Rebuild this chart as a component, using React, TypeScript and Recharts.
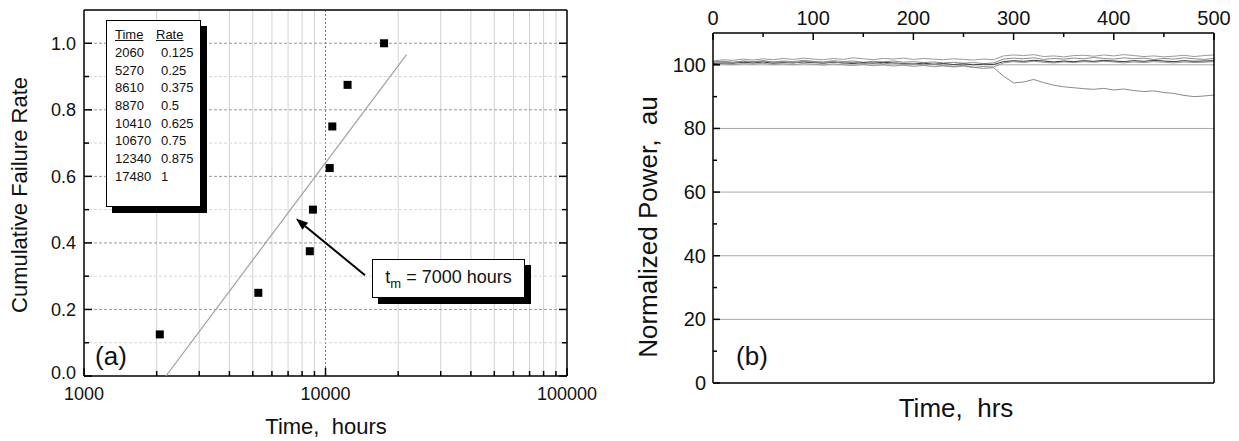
import React from "react";
import {
  ComposedChart,
  LineChart,
  Line,
  Scatter,
  XAxis,
  YAxis,
  ReferenceLine,
} from "recharts";

const FONT = "'Liberation Sans', Arial, Helvetica, sans-serif";

// ---- panel (a) data ----
const failTime = [2060, 5270, 8610, 8870, 10410, 10670, 12340, 17480];
const failRate = [0.125, 0.25, 0.375, 0.5, 0.625, 0.75, 0.875, 1];
const rateLabels = ["0.125", "0.25", "0.375", "0.5", "0.625", "0.75", "0.875", "1"];
const fitTime = [2185, 21650];
const fitRate = [0, 0.966];
const arrowTime = [14575, 7546];
const arrowRate = [0.303, 0.473];

const logTicks = [
  1000, 2000, 3000, 4000, 5000, 6000, 7000, 8000, 9000,
  10000, 20000, 30000, 40000, 50000, 60000, 70000, 80000, 90000, 100000,
];
const logLabels = [1000, 10000, 100000];
const minorLog = [
  2000, 3000, 4000, 5000, 6000, 7000, 8000, 9000,
  20000, 30000, 40000, 50000, 60000, 70000, 80000, 90000,
];
const rateTicks = [0, 0.1, 0.2, 0.3, 0.4, 0.5, 0.6, 0.7, 0.8, 0.9, 1.0];
const rateGridMajor = [0.2, 0.4, 0.6, 0.8, 1.0];
const rateGridMinor = [0.1, 0.3, 0.5, 0.7, 0.9];

// ---- panel (b) data ----
const hrs = [
  0, 10, 20, 30, 40, 50, 60, 70, 80, 90,
  100, 110, 120, 130, 140, 150, 160, 170, 180, 190,
  200, 210, 220, 230, 240, 250, 260, 270, 280, 290,
  300, 310, 320, 330, 340, 350, 360, 370, 380, 390,
  400, 410, 420, 430, 440, 450, 460, 470, 480, 490, 500,
];
const powA = [
  100.8, 101.0, 100.7, 101.1, 100.9, 101.2, 100.8, 101.0, 100.6, 101.1,
  100.9, 100.7, 101.0, 100.5, 100.8, 100.4, 100.7, 100.3, 100.6, 100.2,
  100.4, 99.9, 100.2, 99.7, 99.5, 99.8, 99.2, 98.9, 99.1, 96.4,
  94.3, 94.6, 95.4, 94.4, 93.6, 93.1, 92.8, 92.5, 92.3, 92.6,
  92.1, 92.4, 91.9, 91.6, 91.8, 91.3, 91.0, 90.4, 90.0, 90.2, 90.5,
];
const powB = [
  101.2, 101.6, 101.4, 101.8, 101.5, 101.9, 101.6, 102.0, 101.7, 102.1,
  101.8, 101.6, 102.0, 101.7, 102.2, 101.9, 101.6, 102.0, 101.8, 102.1,
  101.7, 102.0, 101.8, 101.6, 101.9, 101.7, 101.5, 101.8, 101.6, 102.8,
  103.1, 102.9, 103.2, 102.6, 102.8, 102.5, 102.9, 103.0, 102.7, 103.1,
  102.8, 103.2, 102.9, 102.6, 102.8, 102.5, 102.7, 103.0, 102.6, 102.9, 103.1,
];
const powC = [
  100.9, 101.1, 100.8, 101.2, 101.0, 101.3, 100.9, 101.2, 101.0, 101.4,
  101.1, 100.9, 101.3, 101.0, 101.2, 100.8, 101.1, 100.9, 101.2, 100.8,
  101.0, 100.7, 100.9, 100.6, 100.8, 100.5, 100.7, 100.4, 100.6, 101.8,
  102.1, 101.9, 102.2, 101.7, 102.0, 101.8, 102.1, 101.9, 102.3, 102.0,
  101.8, 102.2, 101.9, 102.1, 101.7, 102.0, 101.8, 102.2, 101.9, 101.7, 102.0,
];
const powD = [
  100.4, 100.6, 100.5, 100.8, 100.6, 100.9, 100.5, 100.7, 100.6, 100.9,
  100.7, 100.5, 100.8, 100.6, 100.4, 100.7, 100.5, 100.8, 100.6, 100.4,
  100.3, 100.5, 100.2, 100.4, 100.1, 100.3, 100.0, 100.2, 100.1, 101.0,
  101.3, 101.1, 101.4, 101.2, 100.9, 101.2, 101.0, 101.3, 101.1, 101.4,
  101.2, 101.0, 101.3, 101.1, 101.4, 101.2, 101.0, 101.3, 101.1, 101.2, 101.3,
];
const powE = [
  100.1, 100.3, 100.0, 100.4, 100.2, 100.5, 100.1, 100.3, 100.0, 100.4,
  100.2, 99.9, 100.3, 100.0, 99.8, 100.1, 99.7, 100.0, 99.6, 99.9,
  99.5, 99.8, 99.4, 99.7, 99.3, 99.6, 99.2, 99.5, 99.3, 100.6,
  101.0, 100.7, 101.1, 100.8, 100.6, 100.9, 100.7, 101.0, 100.8, 101.1,
  100.9, 100.6, 100.9, 100.7, 101.0, 100.8, 100.6, 100.9, 100.7, 100.8, 101.0,
];
const hrTicks = [0, 50, 100, 150, 200, 250, 300, 350, 400, 450, 500];
const hrLabels = [0, 100, 200, 300, 400, 500];
const bottomTicks = [62.5, 125, 187.5, 250, 312.5, 375, 437.5];
const powTicks = [0, 10, 20, 30, 40, 50, 60, 70, 80, 90, 100];
const powLabels = [0, 20, 40, 60, 80, 100];
const powGrid = [20, 40, 60, 80, 100];

const pointData = failTime.map((t, i) => ({ t, r: failRate[i] }));
const fitData = fitTime.map((t, i) => ({ t, r: fitRate[i] }));
const powerData = hrs.map((h, i) => ({
  hrs: h,
  a: powA[i],
  b: powB[i],
  c: powC[i],
  d: powD[i],
  e: powE[i],
}));

// ---- tick renderers (ticks point inward) ----
const LogBottomTick = (p: any) => {
  const v = p.payload.value;
  const major = logLabels.includes(v);
  return (
    <g>
      <line x1={p.x} x2={p.x} y1={p.y} y2={p.y - (major ? 8 : 5)} stroke="#000" strokeWidth={1.5} />
      {major && (
        <text x={p.x} y={p.y + 24} textAnchor="middle" fontSize={18} fontFamily={FONT} fill="#111">
          {v}
        </text>
      )}
    </g>
  );
};

const LogTopTick = (p: any) => {
  const major = logLabels.includes(p.payload.value);
  return <line x1={p.x} x2={p.x} y1={p.y} y2={p.y + (major ? 8 : 5)} stroke="#000" strokeWidth={1.5} />;
};

const RateLeftTick = (p: any) => {
  const v = p.payload.value;
  const major = Math.round(v * 10) % 2 === 0;
  return (
    <g>
      <line x1={p.x} x2={p.x + (major ? 8 : 5)} y1={p.y} y2={p.y} stroke="#000" strokeWidth={1.5} />
      {major && (
        <text x={p.x - 8} y={p.y + (v === 0 ? 3 : 6.5)} textAnchor="end" fontSize={18} fontFamily={FONT} fill="#111">
          {v.toFixed(1)}
        </text>
      )}
    </g>
  );
};

const RateRightTick = (p: any) => {
  const major = Math.round(p.payload.value * 10) % 2 === 0;
  return <line x1={p.x} x2={p.x - (major ? 8 : 5)} y1={p.y} y2={p.y} stroke="#000" strokeWidth={1.5} />;
};

const HrTopTick = (p: any) => {
  const v = p.payload.value;
  const major = hrLabels.includes(v);
  return (
    <g>
      <line x1={p.x} x2={p.x} y1={p.y} y2={p.y + (major ? 7 : 4)} stroke="#000" strokeWidth={1.5} />
      {major && (
        <text x={p.x} y={p.y - 8} textAnchor="middle" fontSize={20} fontFamily={FONT} fill="#111">
          {v}
        </text>
      )}
    </g>
  );
};

const HrBottomTick = (p: any) => {
  const idx = bottomTicks.indexOf(p.payload.value);
  const major = idx % 2 === 1;
  return <line x1={p.x} x2={p.x} y1={p.y} y2={p.y - (major ? 7 : 4)} stroke="#000" strokeWidth={1.5} />;
};

const PowLeftTick = (p: any) => {
  const v = p.payload.value;
  const major = powLabels.includes(v);
  return (
    <g>
      <line x1={p.x} x2={p.x + (major ? 7 : 4)} y1={p.y} y2={p.y} stroke="#000" strokeWidth={1.5} />
      {major && (
        <text x={p.x - 7} y={p.y + 7} textAnchor="end" fontSize={20} fontFamily={FONT} fill="#111">
          {v}
        </text>
      )}
    </g>
  );
};

const Square = (p: any) => <rect x={p.cx - 4} y={p.cy - 4} width={8} height={8} fill="#000" />;

const Arrow = (p: any) => {
  const { x1, y1, x2, y2 } = p;
  const ang = Math.atan2(y2 - y1, x2 - x1);
  const L = 12;
  const W = 4.5;
  const bx = x2 - L * Math.cos(ang);
  const by = y2 - L * Math.sin(ang);
  const px = -Math.sin(ang) * W;
  const py = Math.cos(ang) * W;
  return (
    <g>
      <line x1={x1} y1={y1} x2={bx} y2={by} stroke="#000" strokeWidth={2} />
      <polygon points={`${x2},${y2} ${bx + px},${by + py} ${bx - px},${by - py}`} fill="#000" />
    </g>
  );
};

const Title = ({ x, y, size, rotate = 0, children }: any) => (
  <div
    style={{
      position: "absolute",
      left: x,
      top: y,
      transform: `translate(-50%, -50%) rotate(${rotate}deg)`,
      fontSize: size,
      fontFamily: FONT,
      whiteSpace: "pre",
      lineHeight: 1,
      color: "#111",
    }}
  >
    {children}
  </div>
);

const axisLine = { stroke: "#000", strokeWidth: 1.5 };

function FailureChart() {
  return (
    <div style={{ position: "absolute", left: 0, top: 0, width: 620, height: 441 }}>
      <ComposedChart width={620} height={441} margin={{ top: 0, right: 0, bottom: 0, left: 0 }}>
        <XAxis
          dataKey="t"
          type="number"
          scale="log"
          domain={[1000, 100000]}
          allowDataOverflow
          ticks={logTicks}
          interval={0}
          height={65}
          tickSize={0}
          tickMargin={0}
          tickLine={false}
          axisLine={axisLine}
          tick={LogBottomTick}
        />
        <XAxis
          xAxisId="top"
          orientation="top"
          type="number"
          scale="log"
          domain={[1000, 100000]}
          allowDataOverflow
          ticks={logTicks}
          interval={0}
          height={10}
          tickSize={0}
          tickMargin={0}
          tickLine={false}
          axisLine={axisLine}
          tick={LogTopTick}
        />
        <YAxis
          dataKey="r"
          type="number"
          domain={[0, 1.1]}
          allowDataOverflow
          ticks={rateTicks}
          interval={0}
          width={84}
          tickSize={0}
          tickMargin={0}
          tickLine={false}
          axisLine={axisLine}
          tick={RateLeftTick}
        />
        <YAxis
          yAxisId="right"
          orientation="right"
          type="number"
          domain={[0, 1.1]}
          allowDataOverflow
          ticks={rateTicks}
          interval={0}
          width={53}
          tickSize={0}
          tickMargin={0}
          tickLine={false}
          axisLine={axisLine}
          tick={RateRightTick}
        />
        {minorLog.map((v) => (
          <ReferenceLine key={`v${v}`} x={v} stroke="#d2d2d2" strokeWidth={1} />
        ))}
        <ReferenceLine x={10000} stroke="#777" strokeWidth={1} strokeDasharray="2 2" />
        {rateGridMinor.map((v) => (
          <ReferenceLine key={`h${v}`} y={v} stroke="#d6d6d6" strokeWidth={1} strokeDasharray="3 2" />
        ))}
        {rateGridMajor.map((v) => (
          <ReferenceLine key={`H${v}`} y={v} stroke="#999" strokeWidth={1} strokeDasharray="3 2" />
        ))}
        <Scatter
          data={fitData}
          line={{ stroke: "#a0a0a0", strokeWidth: 1.2 }}
          lineType="joint"
          shape={() => <g />}
          isAnimationActive={false}
        />
        <Scatter data={pointData} shape={Square} isAnimationActive={false} />
        <ReferenceLine
          segment={[
            { x: arrowTime[0], y: arrowRate[0] },
            { x: arrowTime[1], y: arrowRate[1] },
          ]}
          shape={Arrow}
        />
      </ComposedChart>

      {/* inset table */}
      <div
        style={{
          position: "absolute",
          left: 106,
          top: 20,
          width: 95,
          height: 187,
          boxSizing: "border-box",
          border: "1.5px solid #000",
          background: "#fff",
          boxShadow: "6px 6px 0 #000",
          fontFamily: FONT,
          fontSize: 13,
          color: "#111",
          paddingTop: 5,
        }}
      >
        <div style={{ display: "flex", height: 17.7, alignItems: "center" }}>
          <span style={{ marginLeft: 8, width: 41, textDecoration: "underline" }}>Time</span>
          <span style={{ textDecoration: "underline" }}>Rate</span>
        </div>
        {failTime.map((t, i) => (
          <div key={t} style={{ display: "flex", height: 17.7, alignItems: "center" }}>
            <span style={{ marginLeft: 8, width: 46 }}>{t}</span>
            <span>{rateLabels[i]}</span>
          </div>
        ))}
      </div>

      {/* annotation */}
      <div
        style={{
          position: "absolute",
          left: 372,
          top: 259,
          width: 153,
          height: 39,
          boxSizing: "border-box",
          border: "1.5px solid #000",
          background: "#fff",
          boxShadow: "6px 6px 0 #000",
          fontFamily: FONT,
          fontSize: 18,
          color: "#111",
          display: "flex",
          alignItems: "center",
          justifyContent: "center",
          whiteSpace: "pre",
        }}
      >
        <span>
          t<sub style={{ fontSize: 13 }}>m</sub> = 7000 hours
        </span>
      </div>

      <Title x={111} y={356} size={26}>(a)</Title>
      <Title x={20} y={195} size={22} rotate={-90}>Cumulative Failure Rate</Title>
      <Title x={326} y={427} size={22}>{"Time,  hours"}</Title>
    </div>
  );
}

function PowerChart() {
  const lines = [
    { key: "b", color: "#9a9a9a" },
    { key: "c", color: "#8a8a8a" },
    { key: "e", color: "#9a9a9a" },
    { key: "d", color: "#3a3a3a" },
    { key: "a", color: "#8a8a8a" },
  ];
  return (
    <div style={{ position: "absolute", left: 620, top: 0, width: 619, height: 441 }}>
      <LineChart width={619} height={441} data={powerData} margin={{ top: 0, right: 24, bottom: 0, left: 0 }}>
        <XAxis
          xAxisId="t"
          dataKey="hrs"
          orientation="top"
          type="number"
          domain={[0, 500]}
          allowDataOverflow
          ticks={hrTicks}
          interval={0}
          height={33}
          tickSize={0}
          tickMargin={0}
          tickLine={false}
          axisLine={axisLine}
          tick={HrTopTick}
        />
        <XAxis
          xAxisId="b"
          orientation="bottom"
          type="number"
          domain={[0, 500]}
          allowDataOverflow
          ticks={bottomTicks}
          interval={0}
          height={58}
          tickSize={0}
          tickMargin={0}
          tickLine={false}
          axisLine={axisLine}
          tick={HrBottomTick}
        />
        <YAxis
          type="number"
          domain={[0, 110]}
          allowDataOverflow
          ticks={powTicks}
          interval={0}
          width={93}
          tickSize={0}
          tickMargin={0}
          tickLine={false}
          axisLine={axisLine}
          tick={PowLeftTick}
        />
        <YAxis
          yAxisId="r"
          orientation="right"
          type="number"
          domain={[0, 110]}
          width={1}
          tick={false}
          tickLine={false}
          axisLine={axisLine}
        />
        {powGrid.map((v) => (
          <ReferenceLine key={v} xAxisId="t" y={v} stroke="#a8a8a8" strokeWidth={1} />
        ))}
        {lines.map((l) => (
          <Line
            key={l.key}
            xAxisId="t"
            dataKey={l.key}
            stroke={l.color}
            strokeWidth={1}
            dot={false}
            isAnimationActive={false}
          />
        ))}
      </LineChart>
      <Title x={132} y={356} size={26}>(b)</Title>
      <Title x={28} y={227} size={26} rotate={-90}>{"Normalized Power,  au"}</Title>
      <Title x={336} y={408} size={26}>{"Time,  hrs"}</Title>
    </div>
  );
}

export default function App() {
  return (
    <div style={{ position: "absolute", left: 0, top: 0, width: 1239, height: 441, background: "#fff" }}>
      <FailureChart />
      <PowerChart />
    </div>
  );
}
